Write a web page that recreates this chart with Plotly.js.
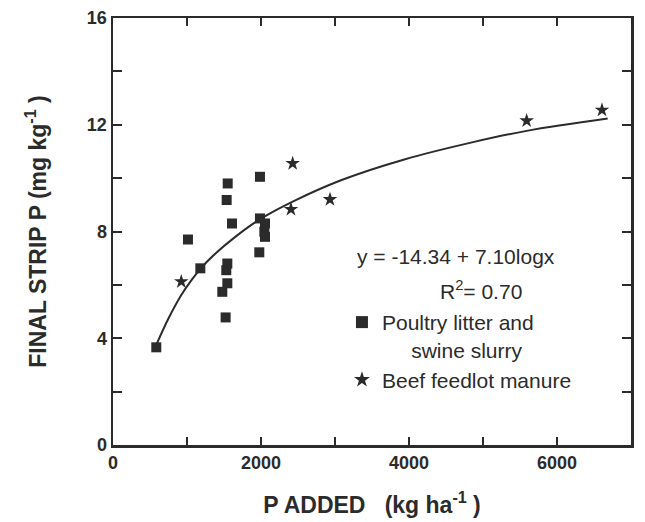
<!DOCTYPE html>
<html>
<head>
<meta charset="utf-8">
<script src="https://cdn.plot.ly/plotly-3.0.1.min.js"></script>
<style>html,body{margin:0;padding:0;background:#fff;}#chart{width:645px;height:522px;}</style>
</head>
<body>
<div id="chart"></div>
<script>
// Poultry litter and swine slurry (squares)
const poultryX = [585, 1013, 1180, 1550, 1536, 1608, 1545, 1531, 1545, 1477, 1522, 1986, 1986, 2054, 2045, 2054, 1977];
const poultryY = [3.66, 7.70, 6.62, 9.80, 9.18, 8.30, 6.80, 6.55, 6.06, 5.74, 4.78, 10.05, 8.49, 8.30, 7.99, 7.80, 7.22];
// Beef feedlot manure (stars)
const beefX = [923, 2428, 2405, 2932, 5590, 6608];
const beefY = [6.12, 10.55, 8.83, 9.20, 12.15, 12.55];
// Fitted curve
const fitX = [585, 746, 923, 1058, 1193, 1374, 1644, 1964, 2428, 3090, 3937, 4838, 5590, 6685];
const fitY = [3.75, 4.72, 5.62, 6.17, 6.64, 7.15, 7.78, 8.42, 9.12, 9.93, 10.70, 11.33, 11.77, 12.23];
// Axis ticks
const xTickVals = [0, 1000, 2000, 3000, 4000, 5000, 6000, 7000];
const xTickText = ['0', '', '2000', '', '4000', '', '6000', ''];
const yTickVals = [0, 2, 4, 6, 8, 10, 12, 14, 16];
const yTickText = ['0', '', '4', '', '8', '', '12', '', '16'];

const ink = '#2b2b2b';
const fam = 'Liberation Sans, Arial, sans-serif';
const nb = '\u00A0';

const traces = [
  {x: fitX, y: fitY, mode: 'lines', line: {color: ink, width: 2, shape: 'spline', smoothing: 1}, showlegend: false, hoverinfo: 'skip'},
  {x: poultryX, y: poultryY, mode: 'markers', name: 'Poultry litter and<br>' + nb.repeat(5) + 'swine slurry',
   marker: {symbol: 'square', size: 10, color: ink}},
  {x: beefX, y: beefY, mode: 'markers', name: 'Beef feedlot manure',
   marker: {symbol: 'star', size: 11, color: ink, line: {width: 0}}}
];

const layout = {
  width: 645, height: 522,
  margin: {l: 113, r: 14, t: 18, b: 77},
  paper_bgcolor: '#fff', plot_bgcolor: '#fff',
  font: {family: fam, color: ink},
  xaxis: {
    range: [0, 7000], tickvals: xTickVals, ticktext: xTickText,
    ticks: 'inside', ticklen: 8, tickwidth: 2, tickcolor: ink,
    showline: true, linewidth: 2.5, linecolor: ink, mirror: 'ticks',
    showgrid: false, zeroline: false,
    tickfont: {family: fam, size: 18, weight: 'bold', color: ink},
    title: {text: 'P ADDED' + nb.repeat(3) + '(kg ha<sup>-1</sup> )', font: {family: fam, size: 23, weight: 'bold', color: ink}, standoff: 25}
  },
  yaxis: {
    range: [0, 16], tickvals: yTickVals, ticktext: yTickText,
    ticks: 'inside', ticklen: 9, tickwidth: 2, tickcolor: ink,
    showline: true, linewidth: 2.5, linecolor: ink, mirror: 'ticks',
    showgrid: false, zeroline: false,
    tickfont: {family: fam, size: 18, weight: 'bold', color: ink},
    title: {text: 'FINAL STRIP P (mg kg<sup>-1</sup> )', font: {family: fam, size: 23, weight: 'bold', color: ink}, standoff: 34}
  },
  legend: {
    x: 0.442, y: 0.335, xanchor: 'left', yanchor: 'top', valign: 'top',
    bgcolor: 'rgba(0,0,0,0)', font: {family: fam, size: 21, color: ink},
    tracegroupgap: 0, itemsizing: 'constant'
  },
  annotations: [
    {x: 3270, y: 7.08, xref: 'x', yref: 'y', xanchor: 'left', yanchor: 'middle', showarrow: false,
     text: 'y = -14.34 + 7.10logx', font: {family: fam, size: 21, color: ink}},
    {x: 4973, y: 5.8, xref: 'x', yref: 'y', xanchor: 'center', yanchor: 'middle', showarrow: false,
     text: 'R<sup>2</sup>= 0.70', font: {family: fam, size: 21, color: ink}}
  ]
};

Plotly.newPlot('chart', traces, layout, {staticPlot: true, displayModeBar: false});
</script>
</body>
</html>
